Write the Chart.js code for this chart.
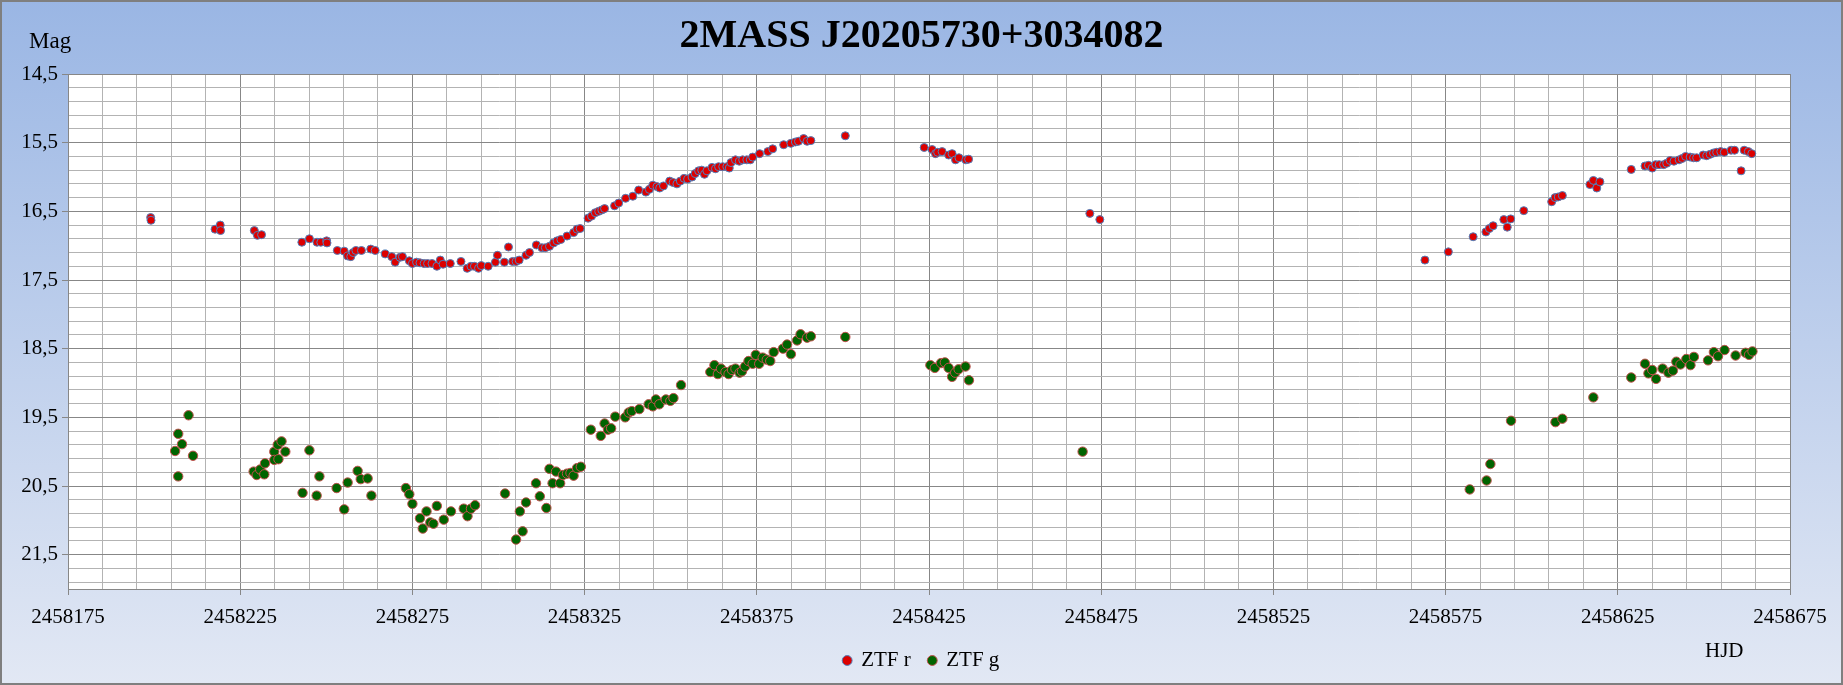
<!DOCTYPE html>
<html>
<head>
<meta charset="utf-8">
<script src="https://cdn.jsdelivr.net/npm/chart.js@4.4.1/dist/chart.umd.min.js"></script>
<style>
  html, body { margin: 0; padding: 0; background: #fff; }
  #wrap { width: 1843px; height: 685px; position: relative; }
</style>
</head>
<body>
<div id="wrap"><canvas id="lc"></canvas></div>
<script>
// light curve, ZTF r and g
const chartTitle = "2MASS J20205730+3034082";
const seriesNames = ["ZTF r", "ZTF g"];

const rHjd = [2458199.0, 2458199.1, 2458217.7, 2458219.2, 2458219.3, 2458229.1, 2458230.0, 2458231.2, 2458242.9, 2458245.1,
  2458247.3, 2458248.4, 2458250.1, 2458250.2, 2458253.2, 2458255.2, 2458256.2, 2458257.1, 2458257.8, 2458258.6,
  2458260.2, 2458262.9, 2458264.2, 2458267.1, 2458269.0, 2458270.0, 2458271.4, 2458272.1, 2458274.1, 2458275.0,
  2458276.2, 2458277.2, 2458278.4, 2458279.4, 2458280.7, 2458282.1, 2458283.1, 2458283.9, 2458286.0, 2458289.1,
  2458290.9, 2458292.0, 2458293.0, 2458294.2, 2458295.0, 2458297.0, 2458299.1, 2458299.7, 2458301.7, 2458302.9,
  2458304.1, 2458305.1, 2458306.0, 2458308.0, 2458309.0, 2458311.0, 2458312.6, 2458313.6, 2458314.8, 2458316.0,
  2458317.0, 2458318.1, 2458319.9, 2458321.8, 2458322.8, 2458323.7, 2458326.0, 2458327.0, 2458328.1, 2458329.1,
  2458330.0, 2458330.8, 2458333.7, 2458334.9, 2458336.9, 2458339.0, 2458340.7, 2458342.8, 2458343.8, 2458344.8,
  2458346.0, 2458346.8, 2458347.9, 2458349.7, 2458350.7, 2458351.8, 2458352.8, 2458353.9, 2458354.9, 2458356.2,
  2458357.1, 2458358.1, 2458359.0, 2458359.8, 2458360.5, 2458362.0, 2458363.0, 2458363.9, 2458365.1, 2458366.3,
  2458367.0, 2458367.5, 2458368.8, 2458369.9, 2458370.9, 2458372.1, 2458373.1, 2458373.8, 2458375.8, 2458378.2,
  2458379.6, 2458382.8, 2458384.9, 2458386.2, 2458387.1, 2458388.6, 2458389.6, 2458390.7, 2458400.7, 2458423.6,
  2458425.9, 2458426.9, 2458427.5, 2458428.8, 2458430.7, 2458431.7, 2458432.7, 2458433.7, 2458435.7, 2458436.5,
  2458471.7, 2458474.6, 2458569.0, 2458575.8, 2458583.0, 2458586.7, 2458587.7, 2458588.8, 2458591.9, 2458592.9,
  2458593.9, 2458597.7, 2458605.8, 2458606.8, 2458607.7, 2458608.9, 2458616.9, 2458617.9, 2458618.9, 2458619.8,
  2458628.9, 2458632.9, 2458633.9, 2458635.0, 2458636.0, 2458637.0, 2458638.3, 2458639.2, 2458640.2, 2458641.3,
  2458642.8, 2458643.7, 2458644.7, 2458646.0, 2458647.0, 2458647.9, 2458649.8, 2458650.8, 2458651.8, 2458652.8,
  2458653.7, 2458654.9, 2458655.9, 2458657.9, 2458658.9, 2458660.8, 2458661.7, 2458662.9, 2458663.9];
const rMag = [16.59, 16.63, 16.76, 16.70, 16.78, 16.78, 16.85, 16.84, 16.95, 16.90,
  16.95, 16.95, 16.93, 16.96, 17.07, 17.08, 17.15, 17.16, 17.10, 17.07,
  17.07, 17.05, 17.07, 17.12, 17.16, 17.24, 17.17, 17.16, 17.22, 17.26,
  17.24, 17.25, 17.26, 17.26, 17.26, 17.30, 17.21, 17.27, 17.26, 17.23,
  17.33, 17.30, 17.30, 17.33, 17.29, 17.30, 17.24, 17.14, 17.24, 17.02,
  17.23, 17.23, 17.21, 17.14, 17.10, 16.99, 17.03, 17.03, 17.01, 16.96,
  16.93, 16.91, 16.86, 16.81, 16.76, 16.75, 16.60, 16.57, 16.52, 16.50,
  16.48, 16.46, 16.42, 16.38, 16.31, 16.28, 16.19, 16.22, 16.18, 16.12,
  16.14, 16.16, 16.13, 16.06, 16.08, 16.10, 16.06, 16.02, 16.03, 16.00,
  15.95, 15.91, 15.90, 15.96, 15.91, 15.86, 15.88, 15.85, 15.85, 15.85,
  15.87, 15.79, 15.75, 15.77, 15.75, 15.75, 15.75, 15.71, 15.66, 15.63,
  15.59, 15.53, 15.51, 15.49, 15.48, 15.44, 15.48, 15.47, 15.40, 15.57,
  15.60, 15.66, 15.64, 15.63, 15.68, 15.66, 15.75, 15.72, 15.75, 15.74,
  16.53, 16.62, 17.21, 17.09, 16.87, 16.80, 16.75, 16.71, 16.62, 16.73,
  16.61, 16.49, 16.36, 16.30, 16.29, 16.27, 16.11, 16.05, 16.16, 16.07,
  15.89, 15.84, 15.83, 15.87, 15.82, 15.82, 15.82, 15.80, 15.76, 15.77,
  15.75, 15.73, 15.70, 15.71, 15.72, 15.72, 15.68, 15.69, 15.67, 15.65,
  15.64, 15.63, 15.64, 15.61, 15.61, 15.91, 15.61, 15.63, 15.66];

const gHjd = [2458206.1, 2458207.0, 2458207.0, 2458208.1, 2458210.0, 2458211.3, 2458228.9, 2458229.8, 2458230.8, 2458232.0,
  2458232.2, 2458234.9, 2458234.9, 2458235.9, 2458236.1, 2458237.0, 2458238.1, 2458243.1, 2458245.1, 2458247.2,
  2458248.0, 2458253.0, 2458255.2, 2458256.2, 2458259.1, 2458260.0, 2458262.0, 2458263.1, 2458273.1, 2458274.1,
  2458275.0, 2458277.2, 2458278.0, 2458279.1, 2458280.2, 2458281.1, 2458282.1, 2458284.1, 2458286.2, 2458289.9,
  2458291.0, 2458292.0, 2458293.2, 2458301.9, 2458305.1, 2458306.2, 2458307.0, 2458308.0, 2458310.9, 2458312.0,
  2458313.9, 2458314.8, 2458315.7, 2458316.7, 2458317.9, 2458318.7, 2458319.9, 2458320.9, 2458321.8, 2458322.8,
  2458323.9, 2458326.8, 2458329.7, 2458330.8, 2458331.8, 2458332.7, 2458333.9, 2458336.8, 2458337.8, 2458338.7,
  2458340.9, 2458343.6, 2458344.8, 2458345.7, 2458346.7, 2458348.6, 2458349.9, 2458350.8, 2458353.0, 2458361.5,
  2458362.7, 2458363.7, 2458364.6, 2458365.9, 2458366.8, 2458367.8, 2458368.8, 2458370.0, 2458370.7, 2458371.6,
  2458372.6, 2458373.8, 2458374.7, 2458375.7, 2458376.7, 2458377.9, 2458378.9, 2458379.9, 2458382.6, 2458383.8,
  2458384.9, 2458386.7, 2458387.7, 2458389.6, 2458390.7, 2458400.7, 2458425.4, 2458426.7, 2458428.5, 2458429.6,
  2458430.7, 2458431.7, 2458432.6, 2458433.6, 2458435.6, 2458436.6, 2458469.6, 2458582.0, 2458586.9, 2458588.0,
  2458594.0, 2458606.9, 2458608.9, 2458617.9, 2458628.9, 2458632.9, 2458633.9, 2458635.0, 2458636.1, 2458638.0,
  2458639.7, 2458641.0, 2458642.0, 2458643.2, 2458644.9, 2458646.1, 2458647.1, 2458651.2, 2458652.9, 2458654.1,
  2458656.0, 2458659.2, 2458662.1, 2458663.1, 2458664.1];
const gMag = [19.99, 19.74, 20.36, 19.89, 19.47, 20.06, 20.29, 20.34, 20.26, 20.33,
  20.17, 20.00, 20.12, 19.90, 20.11, 19.85, 20.00, 20.60, 19.98, 20.64,
  20.36, 20.53, 20.84, 20.45, 20.28, 20.40, 20.39, 20.64, 20.53, 20.62,
  20.76, 20.97, 21.12, 20.87, 21.03, 21.05, 20.79, 20.99, 20.87, 20.83,
  20.94, 20.83, 20.78, 20.61, 21.28, 20.87, 21.16, 20.74, 20.46, 20.65,
  20.82, 20.25, 20.46, 20.29, 20.46, 20.34, 20.32, 20.31, 20.35, 20.24,
  20.22, 19.68, 19.77, 19.59, 19.68, 19.66, 19.49, 19.50, 19.43, 19.41,
  19.38, 19.31, 19.34, 19.24, 19.31, 19.24, 19.26, 19.22, 19.03, 18.84,
  18.74, 18.87, 18.79, 18.84, 18.87, 18.81, 18.79, 18.85, 18.83, 18.76,
  18.68, 18.72, 18.59, 18.72, 18.63, 18.66, 18.68, 18.55, 18.50, 18.44,
  18.58, 18.38, 18.29, 18.34, 18.32, 18.33, 18.74, 18.78, 18.71, 18.70,
  18.78, 18.91, 18.85, 18.80, 18.76, 18.96, 20.00, 20.55, 20.42, 20.18,
  19.55, 19.57, 19.52, 19.21, 18.92, 18.72, 18.86, 18.81, 18.94, 18.79,
  18.85, 18.82, 18.69, 18.73, 18.65, 18.74, 18.62, 18.67, 18.55, 18.61,
  18.52, 18.60, 18.56, 18.59, 18.54];

// axes
const hjdTicks = [2458175, 2458225, 2458275, 2458325, 2458375, 2458425, 2458475, 2458525, 2458575, 2458625, 2458675];
const hjdMinorStep = 10;
const magTicks = [14.5, 15.5, 16.5, 17.5, 18.5, 19.5, 20.5, 21.5];
const magTickLabels = ["14,5", "15,5", "16,5", "17,5", "18,5", "19,5", "20,5", "21,5"];
const magMinorStep = 0.2;
const magMax = 22;

const FONT = "'Liberation Serif', 'Times New Roman', serif";
const MAJOR = "#878787", MINOR = "#b3b3b3";

const isMajorX = v => hjdTicks.includes(v);
const magIndex = v => magTicks.findIndex(m => Math.abs(m - v) < 1e-6);

const toPoints = (xs, ys) => xs.map((x, i) => ({ x: x, y: ys[i] }));

const frame = {
  id: "frame",
  beforeDraw(chart) {
    const { ctx, width, height, chartArea: a } = chart;
    ctx.save();
    const g = ctx.createLinearGradient(0, 0, 0, height);
    g.addColorStop(0, "#9ab6e4");
    g.addColorStop(1, "#e2e8f4");
    ctx.fillStyle = g;
    ctx.fillRect(0, 0, width, height);
    ctx.fillStyle = "#ffffff";
    ctx.fillRect(a.left, a.top, a.right - a.left, a.bottom - a.top);
    ctx.restore();
  },
  afterDraw(chart) {
    const { ctx, width, height } = chart;
    ctx.save();
    ctx.fillStyle = "#000";
    ctx.font = "23px " + FONT;
    ctx.textBaseline = "alphabetic";
    ctx.textAlign = "left";
    ctx.fillText("Mag", 29, 48);
    ctx.font = "21px " + FONT;
    ctx.fillText("HJD", 1705, 657);
    ctx.strokeStyle = "#7f7f7f";
    ctx.lineWidth = 2;
    ctx.strokeRect(1, 1, width - 2, height - 2);
    ctx.restore();
  }
};

new Chart(document.getElementById("lc"), {
  type: "scatter",
  data: {
    datasets: [
      {
        label: seriesNames[0],
        data: toPoints(rHjd, rMag),
        backgroundColor: "#dc0000",
        borderColor: "#4f81bd",
        borderWidth: 1,
        pointRadius: 4
      },
      {
        label: seriesNames[1],
        data: toPoints(gHjd, gMag),
        backgroundColor: "#006400",
        borderColor: "#c0504d",
        borderWidth: 1,
        pointRadius: 4.7
      }
    ]
  },
  options: {
    responsive: true,
    maintainAspectRatio: false,
    animation: false,
    layout: { padding: { left: 0, right: 0, top: 0, bottom: 4 } },
    plugins: {
      title: {
        display: true,
        text: chartTitle,
        color: "#000",
        font: { family: FONT, size: 40, weight: "bold" },
        padding: { top: 13, bottom: 13 }
      },
      legend: {
        position: "bottom",
        labels: {
          usePointStyle: true,
          pointStyle: "circle",
          boxWidth: 7,
          boxHeight: 7,
          padding: 18,
          color: "#000",
          font: { family: FONT, size: 21 }
        }
      },
      tooltip: { enabled: false }
    },
    scales: {
      x: {
        type: "linear",
        min: hjdTicks[0],
        max: hjdTicks[hjdTicks.length - 1],
        afterBuildTicks(scale) {
          const t = [];
          for (let v = hjdTicks[0]; v <= hjdTicks[hjdTicks.length - 1]; v += hjdMinorStep) t.push({ value: v });
          scale.ticks = t;
        },
        afterFit(scale) {
          scale.height = 43;
          scale.paddingRight = 53;
        },
        ticks: {
          autoSkip: false,
          maxRotation: 0,
          padding: 10,
          color: "#000",
          font: { family: FONT, size: 21 },
          callback: v => (isMajorX(v) ? String(v) : "")
        },
        grid: {
          color: c => (c.tick && isMajorX(c.tick.value) ? MAJOR : MINOR),
          tickColor: c => (c.tick && isMajorX(c.tick.value) ? MAJOR : "rgba(0,0,0,0)"),
          tickLength: 6,
          lineWidth: 1
        },
        border: { color: MAJOR, width: 1 }
      },
      y: {
        type: "linear",
        reverse: true,
        min: magTicks[0],
        max: magMax,
        afterBuildTicks(scale) {
          const t = [];
          for (let i = 0; ; i++) {
            const v = Math.round((magTicks[0] + i * magMinorStep) * 10) / 10;
            if (v >= magMax) break;
            t.push({ value: v });
          }
          t.push({ value: magMax });
          scale.ticks = t;
        },
        afterFit(scale) { scale.width = 68; },
        ticks: {
          autoSkip: false,
          padding: 4,
          color: "#000",
          font: { family: FONT, size: 21 },
          callback: v => {
            const i = magIndex(v);
            return i >= 0 ? magTickLabels[i] : "";
          }
        },
        grid: {
          color: c => (c.tick && magIndex(c.tick.value) >= 0 ? MAJOR : MINOR),
          tickColor: c => (c.tick && magIndex(c.tick.value) >= 0 ? MAJOR : "rgba(0,0,0,0)"),
          tickLength: 6,
          lineWidth: 1
        },
        border: { color: MAJOR, width: 1 }
      }
    }
  },
  plugins: [frame]
});
</script>
</body>
</html>
